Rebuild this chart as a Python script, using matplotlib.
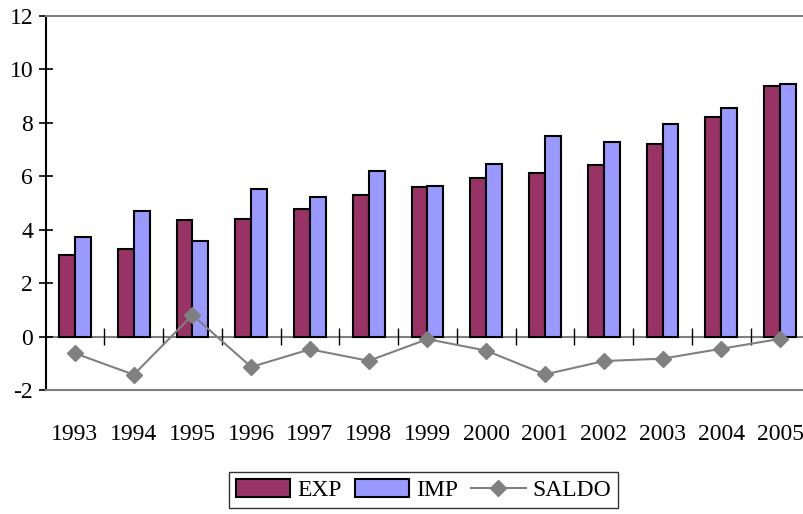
import matplotlib
matplotlib.use("Agg")
import matplotlib.pyplot as plt
import numpy as np

years = ["1993", "1994", "1995", "1996", "1997", "1998", "1999",
         "2000", "2001", "2002", "2003", "2004", "2005"]
exp_vals = [3.07, 3.28, 4.39, 4.40, 4.77, 5.30, 5.59, 5.96, 6.12, 6.42, 7.23, 8.21, 9.38]
imp_vals = [3.73, 4.70, 3.59, 5.52, 5.22, 6.19, 5.66, 6.48, 7.53, 7.30, 7.96, 8.57, 9.47]
saldo_vals = [-0.61, -1.41, 0.82, -1.12, -0.46, -0.89, -0.08, -0.51, -1.40, -0.90, -0.81, -0.44, -0.07]
yticks = [-2, 0, 2, 4, 6, 8, 10, 12]

plt.rcParams['font.family'] = ['Liberation Serif', 'DejaVu Serif']

fig = plt.figure(figsize=(8.04, 5.14), dpi=100)
ax = fig.add_axes([0.0567, 0.2403, 0.95, 0.7286])

x = np.arange(len(years))
w = 0.27
ax.axhline(0, color='#808080', lw=1.5, zorder=1)
b1 = ax.bar(x - w / 2, exp_vals, width=w, color='#993366', edgecolor='black', lw=1.5, label='EXP', zorder=2)
b2 = ax.bar(x + w / 2, imp_vals, width=w, color='#9999FF', edgecolor='black', lw=1.5, label='IMP', zorder=2)
ax.vlines(x[:-1] + 0.5, -0.3, 0.32, color='black', lw=1, zorder=1)
l1, = ax.plot(x, saldo_vals, color='#808080', lw=1.5, marker='D', markersize=8,
              markerfacecolor='#808080', markeredgecolor='#808080', label='SALDO', zorder=3)

ax.set_xlim(-0.5, len(years) - 0.5)
ax.set_ylim(-2, 12)
ax.set_yticks(yticks)
ax.set_yticklabels([str(v) for v in yticks], fontsize=17)
ax.tick_params(axis='y', direction='inout', length=10, width=1.2, color='black', pad=4)
ax.set_xticks(x)
ax.set_xticklabels(years, fontsize=17)
ax.tick_params(axis='x', length=0, pad=24)

ax.spines['left'].set_color('black')
ax.spines['left'].set_linewidth(1.5)
ax.spines['top'].set_color('#808080')
ax.spines['top'].set_linewidth(1.5)
ax.spines['bottom'].set_color('#808080')
ax.spines['bottom'].set_linewidth(1.5)
ax.spines['right'].set_visible(False)

leg = fig.legend([b1, b2, l1], ['EXP', 'IMP', 'SALDO'],
                 loc='upper center', bbox_to_anchor=(0.527, 0.0817), ncol=3,
                 fontsize=17, frameon=True, fancybox=False, shadow=False,
                 handlelength=2.3, handleheight=0.8, columnspacing=0.55,
                 handletextpad=0.3, borderpad=0.3, borderaxespad=0)
leg.get_frame().set_edgecolor('black')
leg.get_frame().set_linewidth(1.0)

fig.savefig('out.png', dpi=100)
